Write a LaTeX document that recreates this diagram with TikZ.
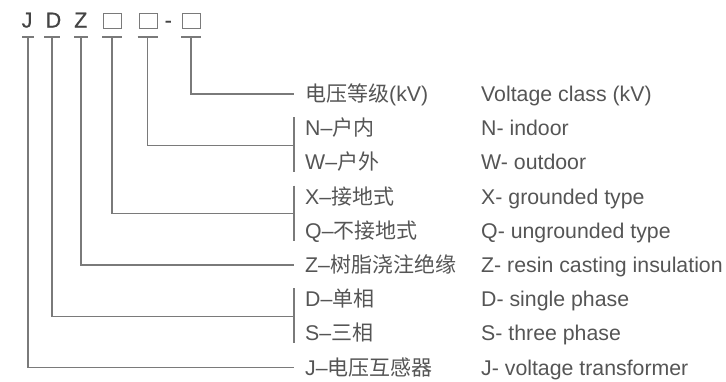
\documentclass[tikz,border=0pt]{standalone}
\usepackage{fontspec}
\setmainfont{Liberation Sans}
\newfontfamily\cjk{Noto Sans CJK SC}
\newfontfamily\symfont[FakeBold=0.8]{Liberation Sans}
\newcommand\zh[1]{{\cjk\fontsize{21bp}{24bp}\selectfont #1}}
\definecolor{txtgray}{HTML}{555555}
\definecolor{symgray}{HTML}{444444}
\definecolor{lngray}{HTML}{7A7A7A}
\begin{document}
\begin{tikzpicture}[x=1bp,y=-1bp,
  sym/.style={anchor=base west,inner sep=0,text=symgray,font=\symfont\fontsize{21.5bp}{24bp}\selectfont},
  lbl/.style={anchor=base west,inner sep=0,text=txtgray,font=\fontsize{21.3bp}{24bp}\selectfont},
  ln/.style={draw=lngray,line width=1.1bp},
  boxsym/.style={draw=lngray,line width=1.2bp,minimum width=18bp,minimum height=15bp,inner sep=0,anchor=north west}]
\useasboundingbox (0,0) rectangle (726,381);
% top symbols
\node[sym] (sJ) at (21.5,27.5) {J};
\node[sym] (sD) at (45.5,27.5) {D};
\node[sym] (sZ) at (74,27.5) {Z};
\node[boxsym] (b1) at (103,12.5) {};
\node[boxsym] (b2) at (138.5,12.5) {};
\node[sym] (dsh) at (164.5,27.5) {-};
\node[boxsym] (b3) at (182,12.5) {};
% tick coordinates
\coordinate (tJ) at (28,37);
\coordinate (tD) at (52,37);
\coordinate (tZ) at (81,37);
\coordinate (t1) at (112,37);
\coordinate (t2) at (147.5,37);
\coordinate (t3) at (191,37);
\draw[ln] (tJ) ++(-6,0) -- ++(12,0);
\draw[ln] (tD) ++(-8,0) -- ++(16,0);
\draw[ln] (tZ) ++(-7,0) -- ++(14,0);
\draw[ln] (t1) ++(-10,0) -- ++(20,0);
\draw[ln] (t2) ++(-10,0) -- ++(20,0);
\draw[ln] (t3) ++(-10,0) -- ++(20,0);
% labels (rows at 94 + 34.2 i, baseline +7.5)
\node[lbl] (c1) at (305,101.5) {\zh{电压等级}(kV)};
\node[lbl] (c2) at (305,135.7) {N–\zh{户内}};
\node[lbl] (c3) at (305,169.9) {W–\zh{户外}};
\node[lbl] (c4) at (305,204.1) {X–\zh{接地式}};
\node[lbl] (c5) at (305,238.3) {Q–\zh{不接地式}};
\node[lbl] (c6) at (305,272.5) {Z–\zh{树脂浇注绝缘}};
\node[lbl] (c7) at (305,306.7) {D–\zh{单相}};
\node[lbl] (c8) at (305,340.9) {S–\zh{三相}};
\node[lbl] (c9) at (305,375.1) {J–\zh{电压互感器}};
\node[lbl] (e1) at (481,101.5) {Voltage class (kV)};
\node[lbl] (e2) at (481,135.7) {N- indoor};
\node[lbl] (e3) at (481,169.9) {W- outdoor};
\node[lbl] (e4) at (481,204.1) {X- grounded type};
\node[lbl] (e5) at (481,238.3) {Q- ungrounded type};
\node[lbl] (e6) at (481,272.5) {Z- resin casting insulation};
\node[lbl] (e7) at (481,306.7) {D- single phase};
\node[lbl] (e8) at (481,340.9) {S- three phase};
\node[lbl] (e9) at (481,375.1) {J- voltage transformer};
% connector end points
\coordinate (k1) at (294,94);
\coordinate (k2) at (294,145.3);
\coordinate (k2a) at (294,117.2);
\coordinate (k2b) at (294,172.4);
\coordinate (k3) at (294,213.7);
\coordinate (k3a) at (294,185.6);
\coordinate (k3b) at (294,240.8);
\coordinate (k4) at (294,265);
\coordinate (k5) at (294,316.3);
\coordinate (k5a) at (294,288.2);
\coordinate (k5b) at (294,343.4);
\coordinate (k6) at (294,367.6);
% connectors
\draw[ln] (t3) |- (k1);
\draw[ln] (t2) |- (k2);
\draw[ln] (k2a) -- (k2b);
\draw[ln] (t1) |- (k3);
\draw[ln] (k3a) -- (k3b);
\draw[ln] (tZ) |- (k4);
\draw[ln] (tD) |- (k5);
\draw[ln] (k5a) -- (k5b);
\draw[ln] (tJ) |- (k6);
\end{tikzpicture}
\end{document}
